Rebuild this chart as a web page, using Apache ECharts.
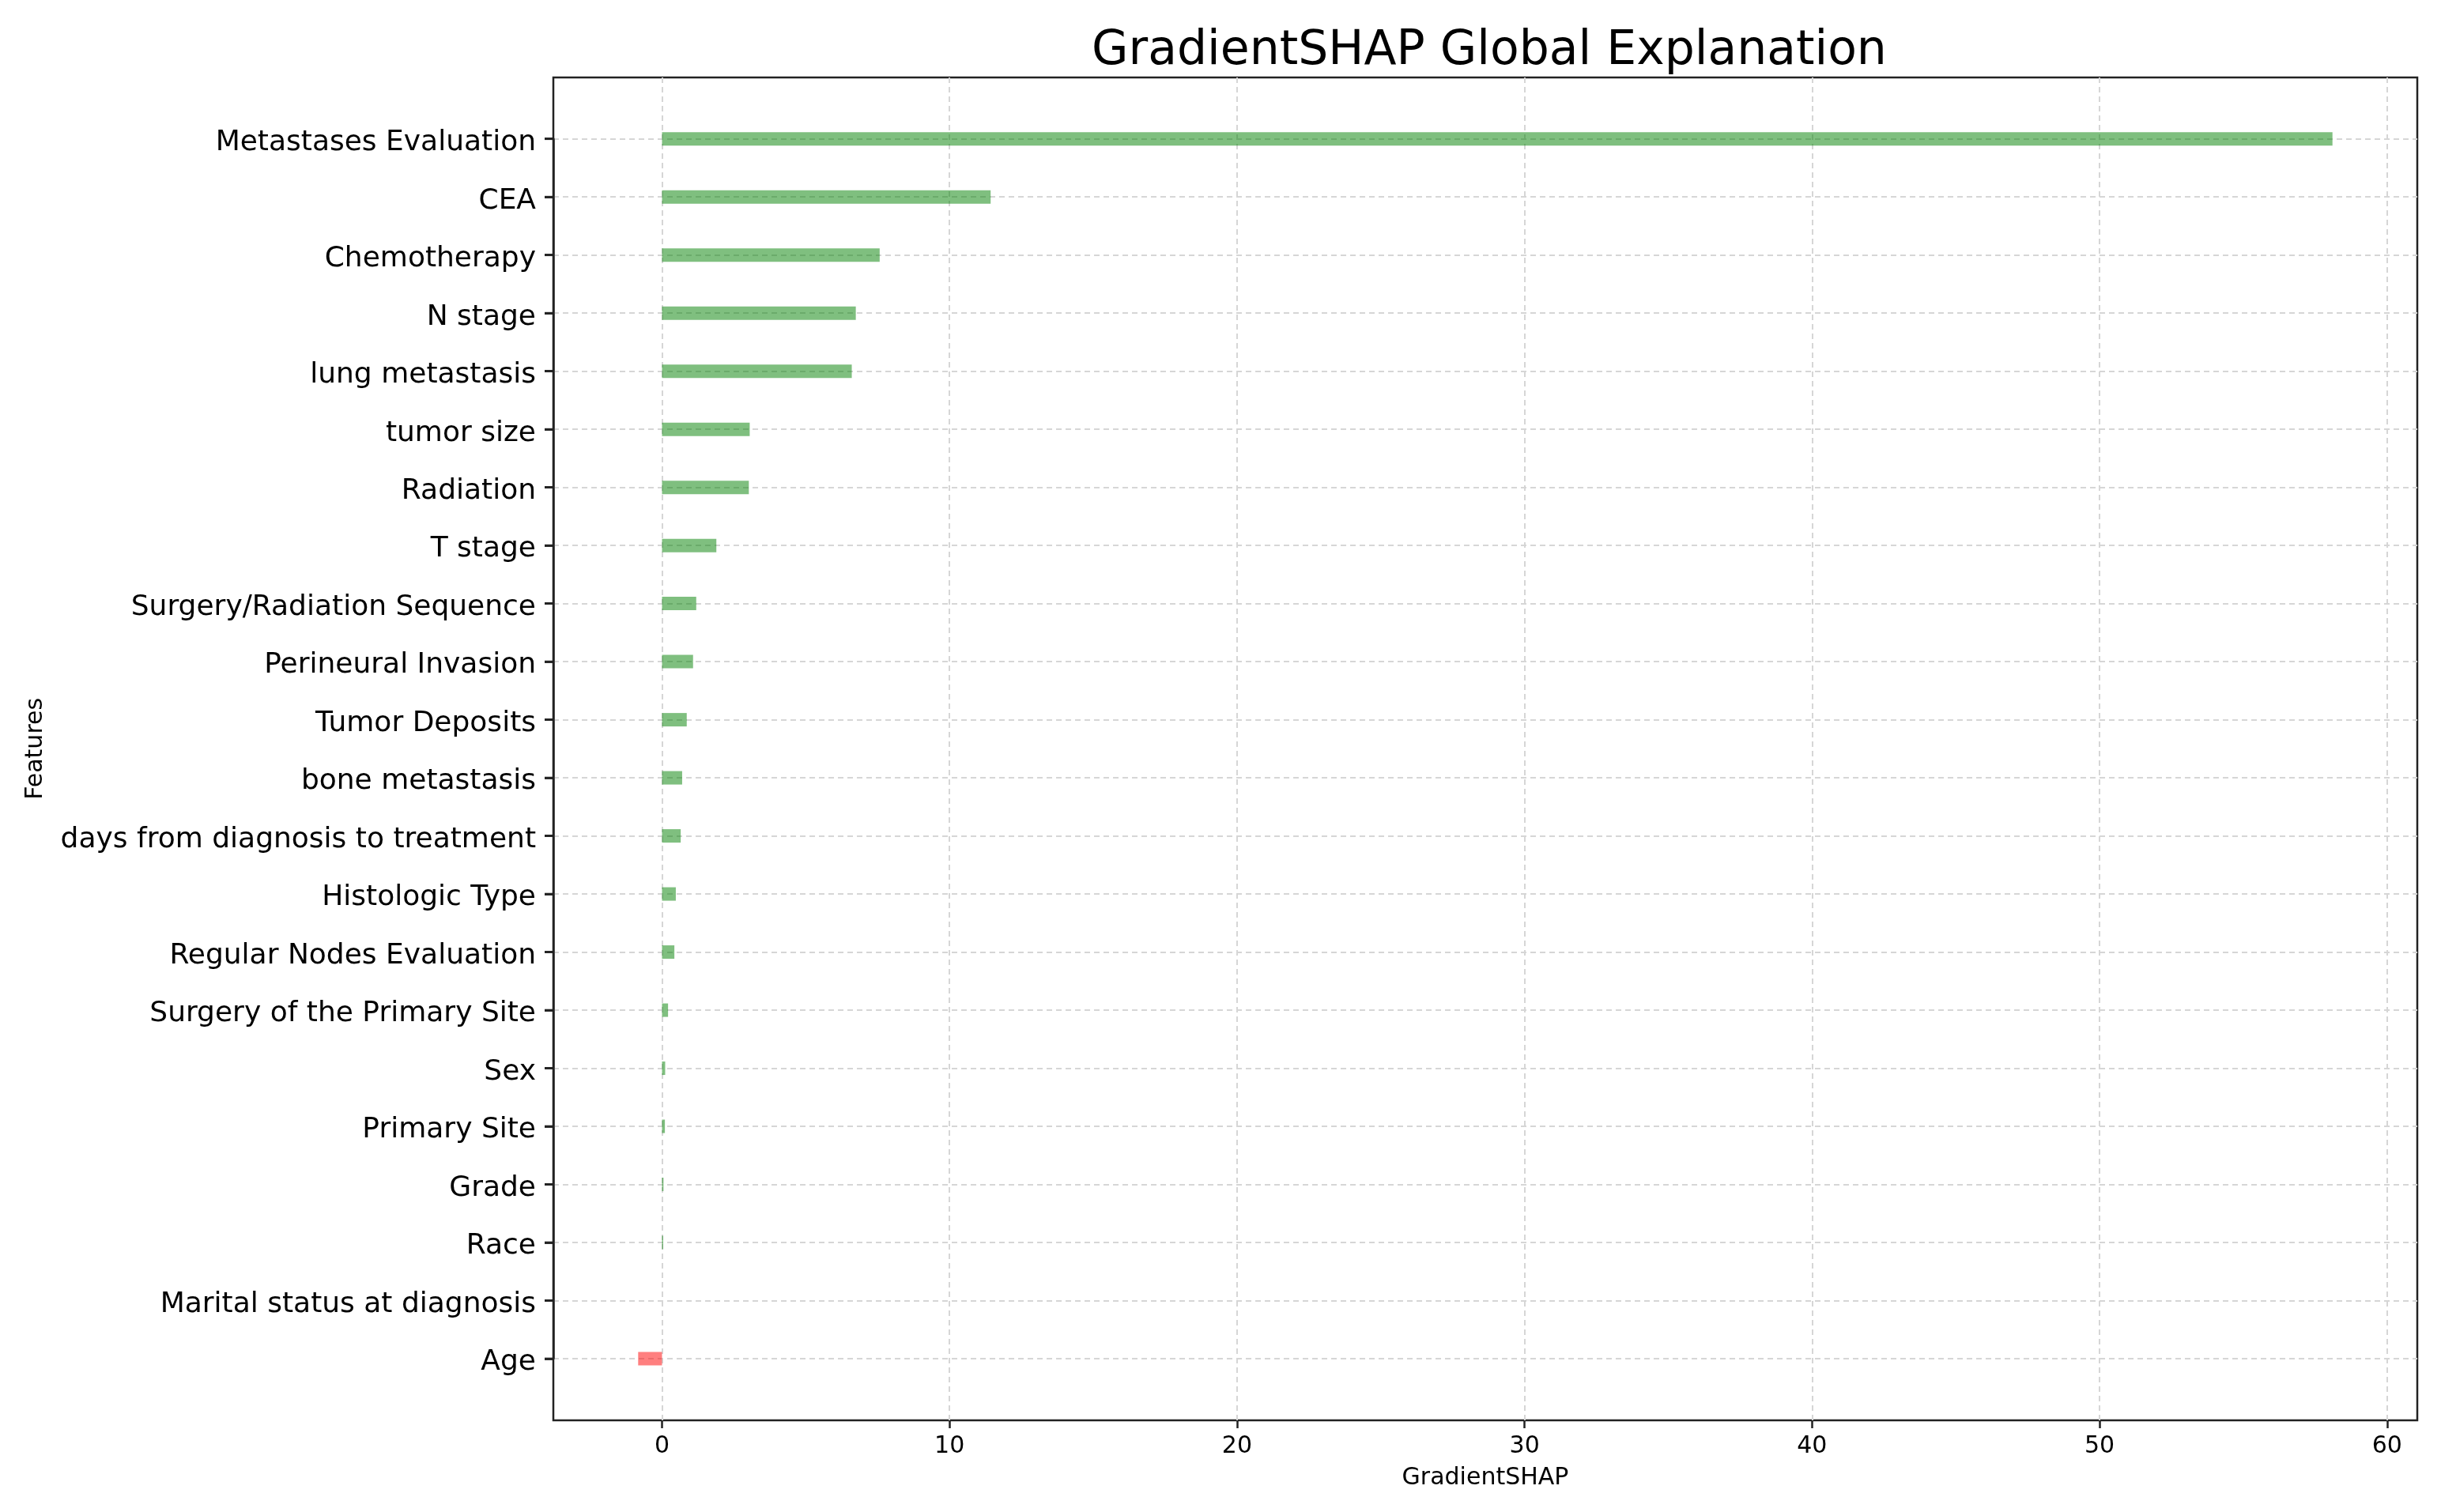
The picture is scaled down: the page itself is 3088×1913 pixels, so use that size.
<!DOCTYPE html>
<html>
<head>
<meta charset="utf-8">
<title>GradientSHAP Global Explanation</title>
<script src="https://cdn.jsdelivr.net/npm/echarts@6/dist/echarts.min.js"></script>
<style>
  html, body { margin: 0; padding: 0; background: #fff; }
  #chart { width: 3088px; height: 1913px; }
</style>
</head>
<body>
<div id="chart"></div>
<script>
// feature names, top to bottom
var features = [
    "Metastases Evaluation", "CEA", "Chemotherapy", "N stage", "lung metastasis",
    "tumor size", "Radiation", "T stage", "Surgery/Radiation Sequence",
    "Perineural Invasion", "Tumor Deposits", "bone metastasis",
    "days from diagnosis to treatment", "Histologic Type", "Regular Nodes Evaluation",
    "Surgery of the Primary Site", "Sex", "Primary Site", "Grade", "Race",
    "Marital status at diagnosis", "Age"
];

// GradientSHAP attribution per feature
var shapValues = [
    58.1, 11.43, 7.57, 6.74, 6.6,
    3.05, 3.02, 1.89, 1.19,
    1.08, 0.86, 0.70,
    0.65, 0.48, 0.43,
    0.21, 0.11, 0.10, 0.05, 0.04,
    0.0, -0.83
];

var xTicks = [0, 10, 20, 30, 40, 50, 60];
var xMin = -3.78, xMax = 61.05;

var FONT = "DejaVu Sans";
var INK = "#222222";
var gridLine = { color: "#d6d6d6", width: 2, type: [7, 5] };

var chart = echarts.init(document.getElementById("chart"));

var option = {
    backgroundColor: "#ffffff",
    animation: false,
    title: {
        text: "GradientSHAP Global Explanation",
        left: 1879,
        top: 30,
        textAlign: "center",
        textStyle: { fontFamily: FONT, fontSize: 60, fontWeight: "normal", color: "#000" }
    },
    grid: [
        // frame (axes box) - carries the x axis
        { left: 700, right: 30, top: 98, bottom: 116, show: true,
          borderColor: INK, borderWidth: 2.5, backgroundColor: "transparent" },
        // bar area - first and last category sit on its edges
        { left: 700, right: 30, top: 175.7, bottom: 194 }
    ],
    xAxis: [
        {
            gridIndex: 0, type: "value", min: xMin, max: xMax, position: "bottom",
            name: "GradientSHAP", nameLocation: "middle", nameGap: 58,
            nameTextStyle: { fontFamily: FONT, fontSize: 30, color: "#000" },
            axisLine: { show: false, onZero: false },
            axisTick: { show: true, length: 10, customValues: xTicks,
                        lineStyle: { color: INK, width: 2.5 } },
            axisLabel: { customValues: xTicks, margin: 18,
                         fontFamily: FONT, fontSize: 30, color: "#000" },
            splitLine: { show: true, lineStyle: gridLine }
        },
        { gridIndex: 1, type: "value", min: xMin, max: xMax, show: false }
    ],
    yAxis: [
        { gridIndex: 0, type: "value", show: false, splitLine: { show: false } },
        {
            gridIndex: 1, type: "category", data: features, inverse: true,
            boundaryGap: false, position: "left",
            name: "Features", nameLocation: "middle", nameGap: 640, nameRotate: 90,
            nameTextStyle: { fontFamily: FONT, fontSize: 30, color: "#000" },
            axisLine: { show: true, onZero: false, lineStyle: { color: INK, width: 2.5 } },
            axisTick: { show: true, interval: 0, length: 11,
                        lineStyle: { color: INK, width: 2.8 } },
            axisLabel: { margin: 22, fontFamily: FONT, fontSize: 36, color: "#000",
                         interval: 0, verticalAlign: "top", lineHeight: 10 },
            splitLine: { show: true, interval: 0, lineStyle: gridLine }
        }
    ],
    series: [
        {
            type: "bar",
            xAxisIndex: 1,
            yAxisIndex: 1,
            data: shapValues,
            barWidth: 17,
            clip: false,
            itemStyle: {
                color: function (p) {
                    return p.value < 0 ? "rgba(255,0,0,0.5)" : "rgba(0,128,0,0.5)";
                }
            }
        },
        {
            // small outward tick marks on the left spine, one per feature row
            type: "scatter",
            xAxisIndex: 1,
            yAxisIndex: 1,
            data: features.map(function (f) { return [xMin, f]; }),
            symbol: "rect",
            symbolSize: [11, 2.8],
            symbolOffset: [-5.5, 0],
            itemStyle: { color: INK },
            clip: false,
            silent: true,
            z: 5
        }
    ]
};

chart.setOption(option);
</script>
</body>
</html>
